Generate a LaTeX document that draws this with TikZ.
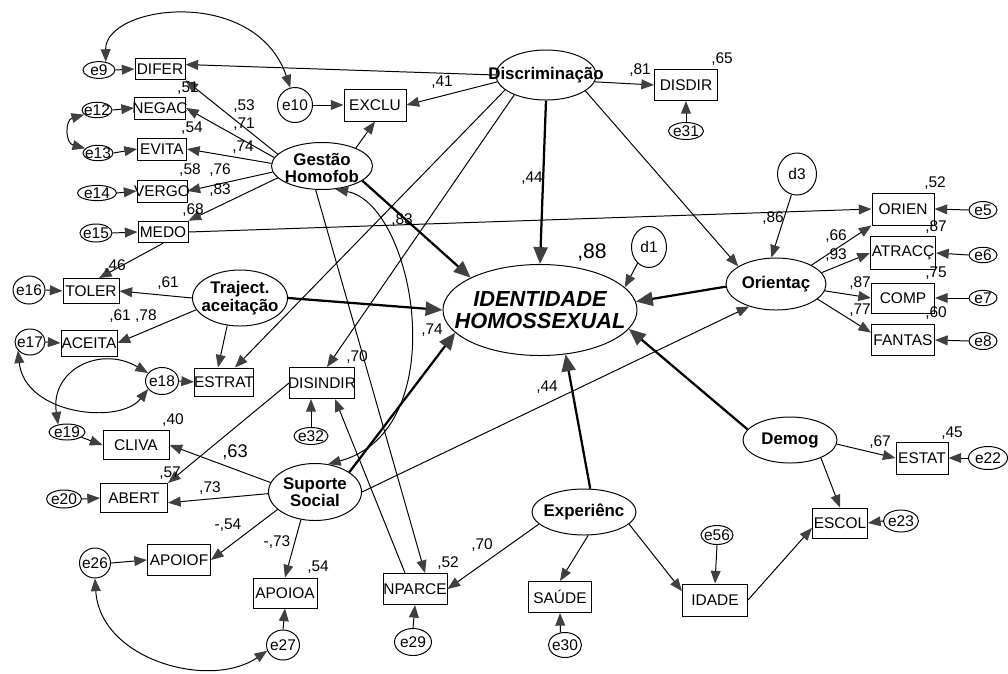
\documentclass[tikz,border=0pt]{standalone}
\usepackage{fontspec}
\setmainfont{Liberation Sans}
\usetikzlibrary{arrows.meta,shapes.geometric,calc}

\tikzset{
  hd/.tip={Triangle[length=9pt,width=7pt,color=black!75]},
  hdbig/.tip={Triangle[length=12pt,width=10pt,color=black!75]},
  zw/.style={execute at begin node={\hbox to 0pt\bgroup\hss}, execute at end node={\hss\egroup}},
  obs/.style={draw, line width=0.7pt, rectangle, zw, inner sep=0pt, minimum width=1.575cm, minimum height=.775cm, font=\fontsize{11}{12}\selectfont},
  sm/.style={obs, minimum width=1.25cm, minimum height=.54cm},
  err/.style={draw, line width=0.7pt, ellipse, zw, inner sep=0pt, minimum width=.8cm, minimum height=.42cm, font=\fontsize{11}{12}\selectfont},
  lat/.style={draw, line width=0.7pt, ellipse, inner sep=0pt},
  lattxt/.style={align=center, inner sep=0pt, font=\bfseries\fontsize{12}{12}\selectfont},
  coef/.style={inner sep=0pt, font=\fontsize{11}{12}\selectfont},
  reg/.style={line width=0.7pt, -hd},
  big/.style={line width=1.6pt, -hdbig},
  cov/.style={line width=0.7pt, hd-hd}
}

\begin{document}
\begin{tikzpicture}[x=0.025cm,y=-0.025cm]
\fill[white] (0,0) rectangle (1008,673);
\useasboundingbox (0,0) rectangle (1008,673);

% latent variables
\node[lat, minimum width=4.85cm, minimum height=2.275cm] (ID) at (540,310) {};
\node[lattxt, font=\bfseries\itshape\fontsize{15.5}{16}\selectfont] (ID-t) at (ID) {IDENTIDADE\\HOMOSSEXUAL};
\node[lat, minimum width=2.5cm, minimum height=1.25cm] (DIS) at (546,75) {};
\node[lattxt] (DIS-t) at (DIS) {Discriminação};
\node[lat, minimum width=2.525cm, minimum height=1.175cm] (GH) at (322,166) {};
\node[lattxt] (GH-t) at (322,168) {Gestão\\Homofob};
\node[lat, minimum width=2.375cm, minimum height=1.4cm] (TR) at (240,298) {};
\node[lattxt, font=\bfseries\fontsize{12}{13}\selectfont] (TR-t) at (TR) {Traject.\\aceitação};
\node[lat, minimum width=2.5cm, minimum height=1.3cm] (OR) at (776,284) {};
\node[lattxt] (OR-t) at (OR) {Orientaç};
\node[lat, minimum width=2.325cm, minimum height=1.425cm] (SS) at (315,492) {};
\node[lattxt] (SS-t) at (SS) {Suporte\\Social};
\node[lat, minimum width=2.6cm, minimum height=1.15cm] (EXP) at (584,512) {};
\node[lattxt] (EXP-t) at (EXP) {Experiênc};
\node[lat, minimum width=2.35cm, minimum height=1.15cm] (DEM) at (790,440) {};
\node[lattxt] (DEM-t) at (DEM) {Demog};

% observed variables
\node[sm] (DIFER) at (160,69) {DIFER};
\node[sm, minimum width=1.275cm, minimum height=.55cm] (NEGAC) at (160,108) {NEGAC};
\node[sm, minimum width=1.225cm, minimum height=.55cm] (EVITA) at (162,149) {EVITA};
\node[sm, minimum height=.55cm] (VERGO) at (162,191) {VERGO};
\node[sm] (MEDO) at (163,232) {MEDO};
\node[obs, minimum width=1.4cm, minimum height=.625cm] (TOLER) at (91,291) {TOLER};
\node[obs, minimum width=1.4cm, minimum height=.65cm] (ACEITA) at (89,343) {ACEITA};
\node[obs, minimum width=1.475cm, minimum height=.7cm] (ESTRAT) at (224,382) {ESTRAT};
\node[obs, minimum width=1.625cm] (DISINDIR) at (322,383) {DISINDIR};
\node[obs, minimum width=1.55cm, minimum height=.8cm] (EXCLU) at (375,105) {EXCLU};
\node[obs] (DISDIR) at (686,85) {DISDIR};
\node[obs, minimum width=1.55cm, minimum height=.8cm] (ORIEN) at (903,209) {ORIEN};
\node[obs, minimum width=1.625cm, minimum height=.825cm] (ATRACC) at (903,253) {ATRACÇ};
\node[obs, minimum height=.75cm] (COMP) at (903,298) {COMP};
\node[obs] (FANTAS) at (903,340) {FANTAS};
\node[obs, minimum width=1.65cm, minimum height=.725cm] (CLIVA) at (136,445) {CLIVA};
\node[obs, minimum width=1.675cm, minimum height=.725cm] (ABERT) at (134,498) {ABERT};
\node[obs] (APOIOF) at (179,560) {APOIOF};
\node[obs, minimum width=1.6cm, minimum height=.75cm] (APOIOA) at (285,593) {APOIOA};
\node[obs, minimum width=1.6cm] (NPARCE) at (415,589) {NPARCE};
\node[obs] (SAUDE) at (560,597) {SAÚDE};
\node[obs, minimum width=1.625cm, minimum height=.8cm] (IDADE) at (715,600) {IDADE};
\node[obs, minimum width=1.3cm, minimum height=.8cm] (ESTAT) at (922,458) {ESTAT};
\node[obs, minimum width=1.375cm, minimum height=.75cm] (ESCOL) at (840,523) {ESCOL};

% error terms
\node[err] (e9) at (99,70) {e9};
\node[err, minimum width=.875cm, minimum height=.875cm] (e10) at (295,105) {e10};
\node[err, minimum width=.75cm, minimum height=.35cm] (e12) at (97,110) {e12};
\node[err, minimum width=.75cm, minimum height=.33cm] (e13) at (98,153) {e13};
\node[err, minimum width=.975cm, minimum height=.33cm] (e14) at (97,193) {e14};
\node[err, minimum height=.45cm] (e15) at (96,233) {e15};
\node[err, minimum height=.7cm] (e16) at (29,290) {e16};
\node[err, minimum width=.75cm, minimum height=.65cm] (e17) at (30,342) {e17};
\node[err, minimum width=.825cm, minimum height=.675cm] (e18) at (162,381) {e18};
\node[err, minimum width=.9cm, minimum height=.4cm] (e19) at (67,432) {e19};
\node[err, minimum width=.875cm, minimum height=.45cm] (e20) at (64,499) {e20};
\node[err, minimum width=.775cm, minimum height=.75cm] (e26) at (95,563) {e26};
\node[err, minimum width=.825cm, minimum height=.75cm] (e27) at (283,645) {e27};
\node[err, minimum width=.925cm, minimum height=.675cm] (e29) at (413,642) {e29};
\node[err, minimum width=.825cm, minimum height=.625cm] (e30) at (565,645) {e30};
\node[err, minimum height=.475cm] (e56) at (717,535) {e56};
\node[err, minimum width=.875cm, minimum height=.425cm] (e31) at (686,131) {e31};
\node[err, minimum width=.85cm, minimum height=.425cm] (e32) at (311,436) {e32};
\node[err, minimum width=.975cm, minimum height=.575cm] (e22) at (988,458) {e22};
\node[err, minimum width=.875cm, minimum height=.55cm] (e23) at (901,521) {e23};
\node[err, minimum width=.7cm, minimum height=.425cm] (e5) at (983,210) {e5};
\node[err, minimum width=.7cm, minimum height=.375cm] (e6) at (983,255) {e6};
\node[err, minimum width=.7cm, minimum height=.375cm] (e7) at (983,298) {e7};
\node[err, minimum width=.7cm, minimum height=.425cm] (e8) at (983,341) {e8};
\node[err, minimum width=.875cm, minimum height=1.025cm] (d1) at (649,247) {d1};
\node[err, minimum width=.975cm, minimum height=1.05cm] (d3) at (797,174) {d3};

% Gestao Homofob
\draw[reg] (GH.165) -- (DIFER.south east);
\draw[reg] (GH.170) -- (NEGAC.east);
\draw[reg] (GH.177) -- (EVITA.east);
\draw[reg] (GH.187) -- (VERGO.east);
\draw[reg] (GH.195) -- (MEDO.north east);
\draw[reg] (GH.28) -- (EXCLU.south);
\draw[big] (GH.340) -- (ID.155);
\draw[reg] (GH.255) -- ($(NPARCE.north)+(10,0)$);
\draw[cov] (GH.300) .. controls (415,205) and (455,430) .. (SS.65);

% Discriminacao
\draw[reg] (DIS.west) -- (DIFER.10);
\draw[reg] (DIS.188) -- (EXCLU.east);
\draw[reg] (DIS.352) -- (DISDIR.west);
\draw[big] (DIS.south) -- (ID.north);
\draw[reg] (DIS.338) -- (OR.155);
\draw[reg] (DIS.200) -- ($(ESTRAT.north)+(11,0)$);
\draw[reg] (DIS.212) -- ($(DISINDIR.north)+(5,0)$);

% Trajectoria
\draw[reg] (TR.west) -- (TOLER.east);
\draw[reg] (TR.195) -- (ACEITA.east);
\draw[reg] (TR.245) -- ($(ESTRAT.north)+(-6,0)$);
\draw[big] (TR.east) -- (ID.west);
\draw[reg] (MEDO.south) -- ($(TOLER.north)+(8,0)$);
\draw[reg] (MEDO.east) -- (ORIEN.west);

% Suporte Social
\draw[reg] (SS.168) -- (CLIVA.east);
\draw[reg] (SS.182) -- (ABERT.352);
\draw[reg] (SS.205) -- (APOIOF.east);
\draw[reg] (SS.243) -- (APOIOA.north);
\draw[big] (SS.30) -- (ID.195);
\draw[reg] (SS.east) -- (OR.220);
\draw[reg] (DISINDIR.west) -- (ABERT.north east);
\draw[reg] ($(NPARCE.north)+(-10,0)$) -- ($(DISINDIR.south)+(13,0)$);

% Orientacao
\draw[reg] (d3.255) -- (OR.100);
\draw[reg] (OR.28) -- (ORIEN.south west);
\draw[reg] (OR.14) -- (ATRACC.west);
\draw[reg] (OR.352) -- (COMP.west);
\draw[reg] (OR.340) -- (FANTAS.167);
\draw[big] (OR.183) -- (ID.5);
\draw[reg] (d1.235) -- (ID.15);

% Experiencia, Demografia
\draw[big] (EXP.75) -- (ID.300);
\draw[reg] (EXP.195) -- (NPARCE.east);
\draw[reg] (EXP.280) -- (SAUDE.north);
\draw[reg] (EXP.345) -- (IDADE.165);
\draw[big] (DEM.166) -- (ID.348);
\draw[reg] (DEM.355) -- (ESTAT.west);
\draw[reg] (DEM.330) -- (ESCOL.north);
\draw[reg] (IDADE.east) -- (ESCOL.190);

% errors
\draw[reg] (e9.east) -- (DIFER.west);
\draw[reg] (e10.east) -- (EXCLU.west);
\draw[reg] (e12.east) -- (NEGAC.west);
\draw[reg] (e13.east) -- (EVITA.west);
\draw[reg] (e14.east) -- (VERGO.west);
\draw[reg] (e15.east) -- (MEDO.west);
\draw[reg] (e16.east) -- (TOLER.west);
\draw[reg] (e17.east) -- (ACEITA.west);
\draw[reg] (e18.east) -- (ESTRAT.west);
\draw[reg] (e19.340) -- (CLIVA.west);
\draw[reg] (e20.east) -- (ABERT.west);
\draw[reg] (e26.east) -- (APOIOF.west);
\draw[reg] (e27.north) -- (APOIOA.south);
\draw[reg] (e29.north) -- (NPARCE.south);
\draw[reg] (e30.110) -- (SAUDE.south);
\draw[reg] (e56.south) -- (IDADE.north);
\draw[reg] (e31.north) -- (DISDIR.south);
\draw[reg] (e32.north) -- (e32.north |- DISINDIR.south);
\draw[reg] (e22.west) -- (ESTAT.east);
\draw[reg] (e23.west) -- (ESCOL.east);
\draw[reg] (e5.west) -- (ORIEN.east);
\draw[reg] (e6.west) -- (ATRACC.east);
\draw[reg] (e7.west) -- (COMP.east);
\draw[reg] (e8.west) -- (FANTAS.east);

% covariances
\draw[cov] (e9.50) .. controls (105,5) and (255,-15) .. (e10.105);
\draw[cov] (e12.200) .. controls (65,120) and (65,143) .. (e13.160);
\draw[cov] (e17.215) .. controls (25,415) and (120,425) .. (e18.210);
\draw[cov] (e18.150) .. controls (100,345) and (50,370) .. (e19.140);
\draw[cov] (e26.south) .. controls (100,660) and (210,690) .. (e27.200);

% coefficients
\node[coef] (c-difer) at (188,88) {,51};
\node[coef] (c-gh1) at (244,106) {,53};
\node[coef] (c-gh2) at (244,124) {,71};
\node[coef] (c-negac) at (192,128) {,54};
\node[coef] (c-gh3) at (243,147) {,74};
\node[coef] (c-evita) at (190,170) {,58};
\node[coef] (c-gh4) at (220,170) {,76};
\node[coef] (c-gh5) at (220,190) {,83};
\node[coef] (c-vergo) at (193,210) {,68};
\node[coef] (c-toler) at (115,266) {,46};
\node[coef] (c-tr1) at (168,283) {,61};
\node[coef] (c-tr2) at (133,316) {,61 ,78};
\node[coef] (c-exclu) at (442,82) {,41};
\node[coef] (c-dis1) at (640,70) {,81};
\node[coef] (c-disdir) at (722,59) {,65};
\node[coef] (c-dis2) at (532,178) {,44};
\node[coef] (c-gh6) at (402,220) {,83};
\node[coef, font=\fontsize{15}{16}\selectfont] (c-id) at (592,252) {,88};
\node[coef] (c-medo) at (773,218) {,86};
\node[coef] (c-orien) at (935,183) {,52};
\node[coef] (c-or1) at (836,236) {,66};
\node[coef] (c-atracc) at (936,227) {,87};
\node[coef] (c-or2) at (836,255) {,93};
\node[coef] (c-or3) at (860,283) {,87};
\node[coef] (c-comp) at (936,273) {,75};
\node[coef] (c-or4) at (860,310) {,77};
\node[coef] (c-fantas) at (936,313) {,60};
\node[coef] (c-np) at (357,357) {,70};
\node[coef] (c-ss1) at (432,330) {,74};
\node[coef] (c-ss2) at (547,387) {,44};
\node[coef] (c-cliva) at (173,420) {,40};
\node[coef, font=\fontsize{13}{14}\selectfont] (c-ss3) at (235,452) {,63};
\node[coef] (c-abert) at (170,473) {,57};
\node[coef] (c-ss4) at (210,488) {,73};
\node[coef] (c-ss5) at (228,525) {-,54};
\node[coef] (c-ss6) at (277,542) {-,73};
\node[coef] (c-apoioa) at (318,567) {,54};
\node[coef] (c-nparce) at (448,563) {,52};
\node[coef] (c-exp) at (482,545) {,70};
\node[coef] (c-dem) at (880,442) {,67};
\node[coef] (c-estat) at (952,433) {,45};
\end{tikzpicture}
\end{document}
